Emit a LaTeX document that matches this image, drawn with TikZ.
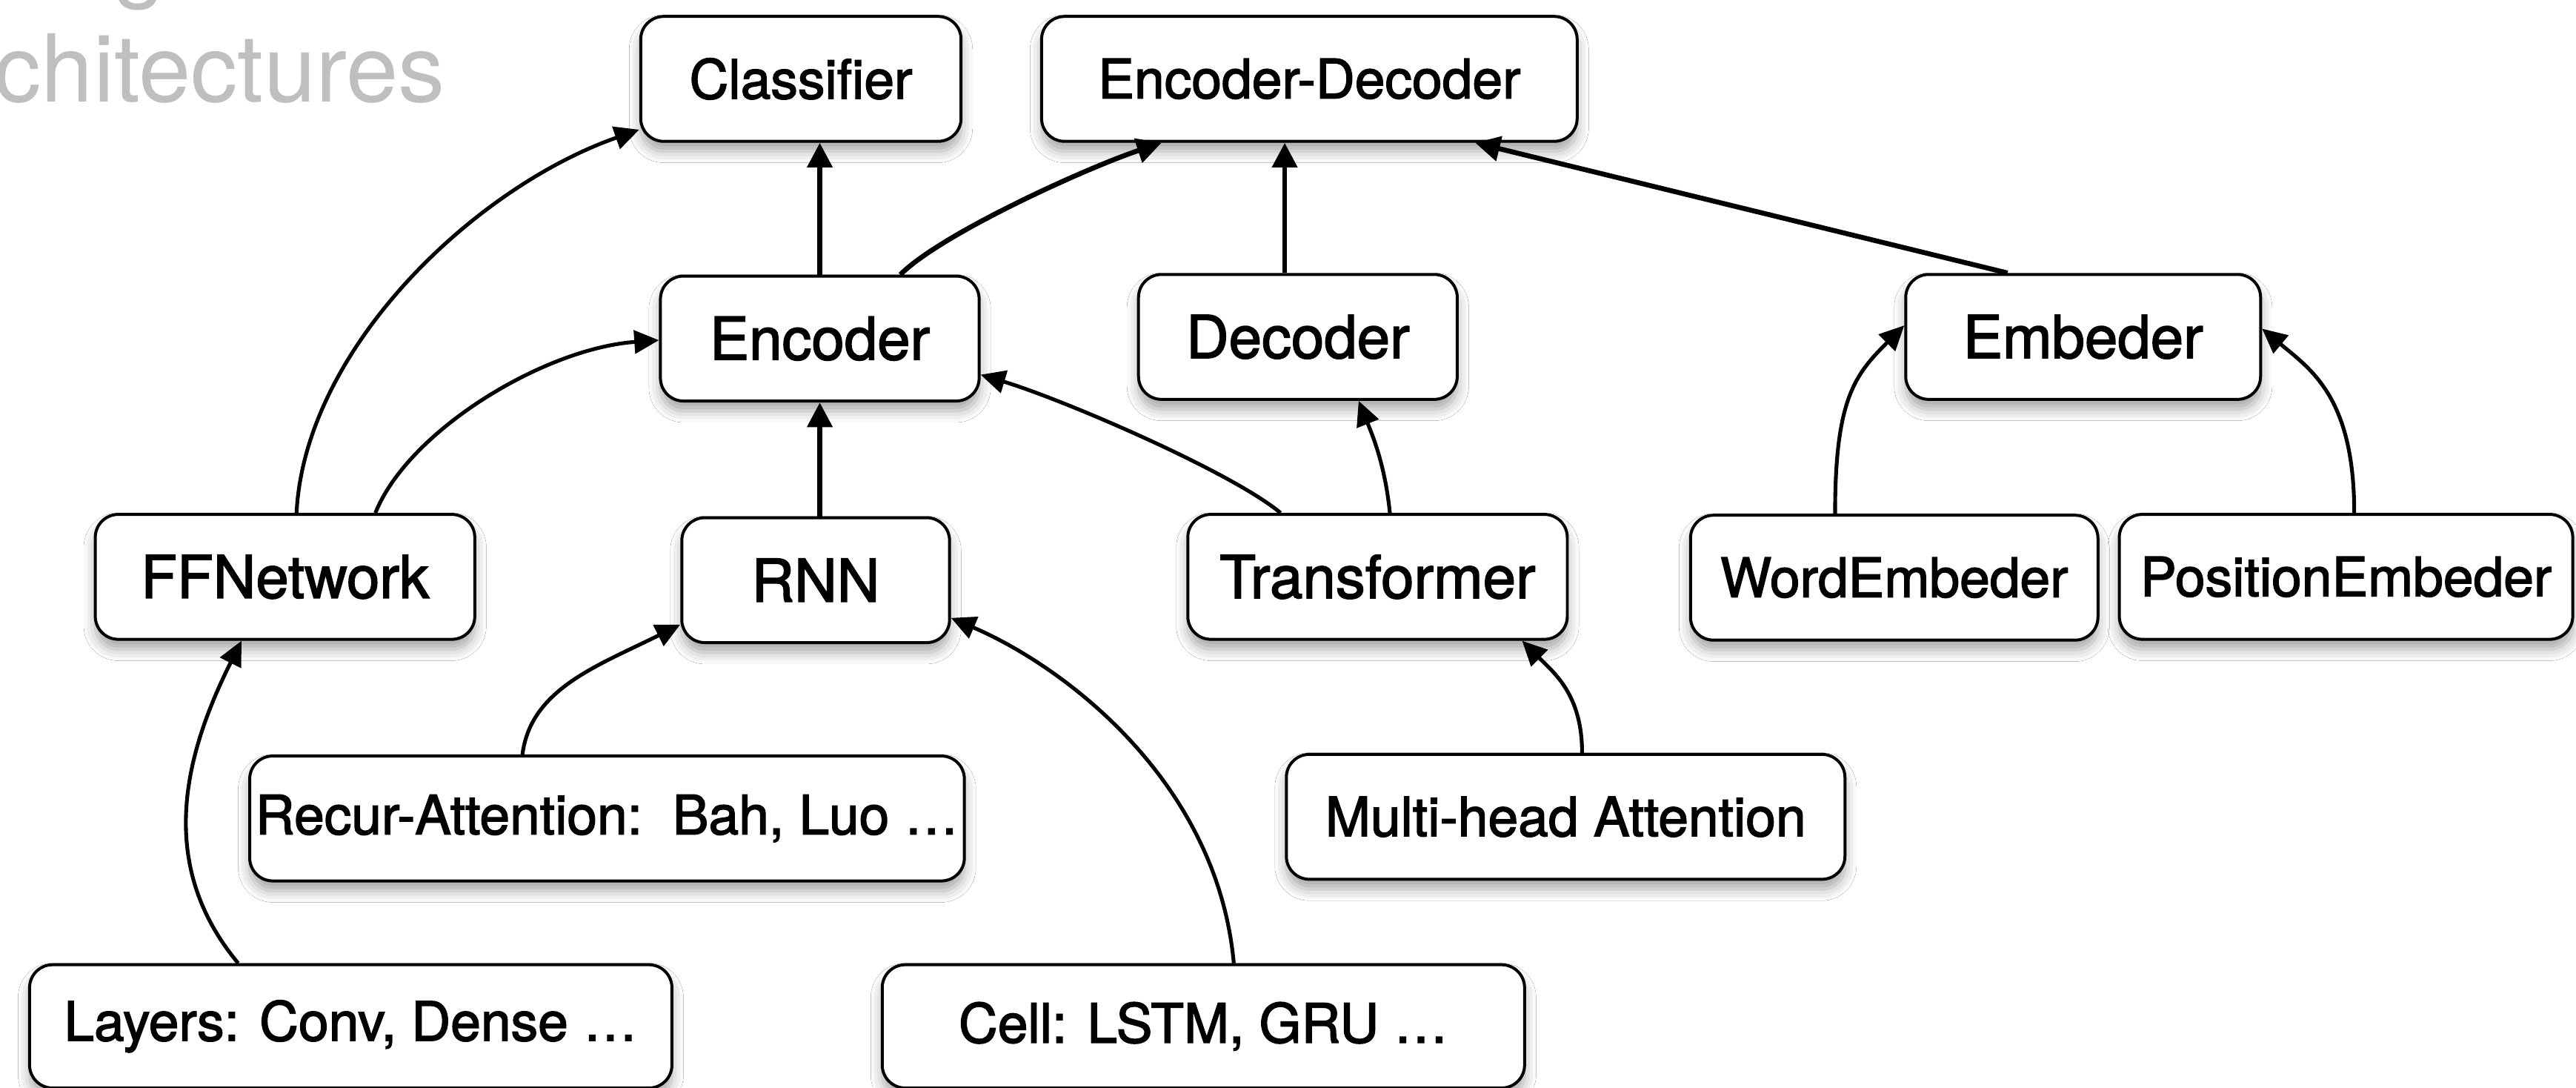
\documentclass[tikz,border=0pt]{standalone}
\usepackage{fontspec}
\setmainfont{TeX Gyre Heros}
\newfontfamily\labelfont[FakeBold=2]{TeX Gyre Heros}
\usetikzlibrary{arrows.meta,shadows.blur}

\tikzset{
  box/.style={draw=black, line width=1.8pt, rounded corners=14pt, fill=white,
    minimum height=76pt, inner sep=0pt, font=\labelfont\fontsize{33}{40}\selectfont,
    blur shadow={shadow xshift=0pt, shadow yshift=-6pt, shadow blur radius=7pt, shadow opacity=35}},
  bigbox/.style={box, font=\labelfont\fontsize{36}{42}\selectfont},
  link/.style={line width=2.3pt, -{Triangle[length=15pt,width=14pt]}},
  thick link/.style={line width=3pt, -{Triangle[length=15pt,width=15pt]}},
}

\begin{document}
\begin{tikzpicture}[x=1pt, y=-1pt]
  \useasboundingbox (0,0) rectangle (1568,661.6);
  \clip (0,0) rectangle (1568,661.6);
  \fill[white] (0,0) rectangle (1568,661.6);

  % title in the corner
  \node[anchor=base east, inner sep=0pt, text=black!25, font=\fontsize{57}{68}\selectfont] (titleA) at (101,-6) {g};
  \node[anchor=base east, inner sep=0pt, text=black!25, font=\fontsize{57}{68}\selectfont] (titleB) at (271,62) {chitectures};

  % top row
  \node[box, minimum width=195pt] (cls) at (487.5,48) {Classifier};
  \node[box, minimum width=326pt] (encdec) at (797,48) {Encoder-Decoder};

  % second row
  \node[bigbox, minimum width=194pt] (enc) at (499,206) {Encoder};
  \node[bigbox, minimum width=194pt] (dec) at (790,205) {Decoder};
  \node[bigbox, minimum width=216pt] (emb) at (1268,205) {Embeder};

  % third row
  \node[bigbox, minimum width=231pt] (ffn) at (173.5,351) {FFNetwork};
  \node[bigbox, minimum width=163pt] (rnn) at (496.5,353) {RNN};
  \node[bigbox, minimum width=231pt] (trf) at (838.5,351) {Transformer};
  \node[box, minimum width=248pt] (wemb) at (1153,351.5) {WordEmbeder};
  \node[box, minimum width=276pt] (pemb) at (1428,351) {PositionEmbeder};

  % fourth row
  \node[box, minimum width=435pt] (recur) at (369.5,498) {Recur-Attention:\ \ Bah, Luo \dots};
  \node[box, minimum width=340pt] (mha) at (953,497) {Multi-head Attention};

  % bottom row
  \node[box, minimum width=391pt, minimum height=75pt] (layers) at (213.5,624.5) {Layers: Conv, Dense \dots};
  \node[box, minimum width=391pt, minimum height=75pt] (cell) at (732.5,624.5) {Cell: LSTM, GRU \dots};

  % connectors
  \draw[link] ([xshift=7pt]ffn.north) .. controls +(5,-100) and +(-100,35) .. ([yshift=8pt]cls.south west);
  \draw[link] ([xshift=55pt]ffn.north) .. controls +(20,-50) and +(-70,5) .. ([yshift=-1pt]enc.west);
  \draw[thick link] (enc.north) -- (enc.north |- cls.south);
  \draw[thick link] ([xshift=49pt]enc.north) .. controls +(25,-25) and +(-45,15) .. ([xshift=-90pt]encdec.south);
  \draw[thick link] ([xshift=-8pt]dec.north) -- ([xshift=-8pt]dec.north |- encdec.south);
  \draw[thick link] ([xshift=-46pt]emb.north) -- ([xshift=101pt]encdec.south);
  \draw[thick link] ([xshift=2.5pt]rnn.north) -- ([xshift=2.5pt]rnn.north |- enc.south);
  \draw[link] ([xshift=-59pt]trf.north) .. controls +(-30,-25) and +(50,15) .. ([yshift=-22pt]enc.east);
  \draw[link] ([xshift=7.5pt]trf.north) .. controls +(-3,-30) and +(8,20) .. ([xshift=37pt]dec.south);
  \draw[link] ([xshift=-36pt]wemb.north) .. controls +(0,-70) and +(-30,30) .. ([yshift=7pt]emb.west);
  \draw[link] ([xshift=5pt]pemb.north) .. controls +(0,-70) and +(30,25) .. ([yshift=5pt]emb.east);
  \draw[link] ([xshift=-51.5pt]recur.north) .. controls +(5,-40) and +(-50,25) .. ([yshift=-27pt]rnn.west);
  \draw[link] ([xshift=18.5pt]cell.north) .. controls +(-10,-110) and +(70,30) .. ([yshift=-23pt]rnn.east);
  \draw[link] ([xshift=10pt]mha.north) .. controls +(0,-35) and +(20,20) .. ([xshift=88pt]trf.south);
  \draw[link] ([xshift=-68.5pt]layers.north) .. controls +(-50,-60) and +(-35,70) .. ([xshift=-26.5pt]ffn.south);
\end{tikzpicture}
\end{document}
